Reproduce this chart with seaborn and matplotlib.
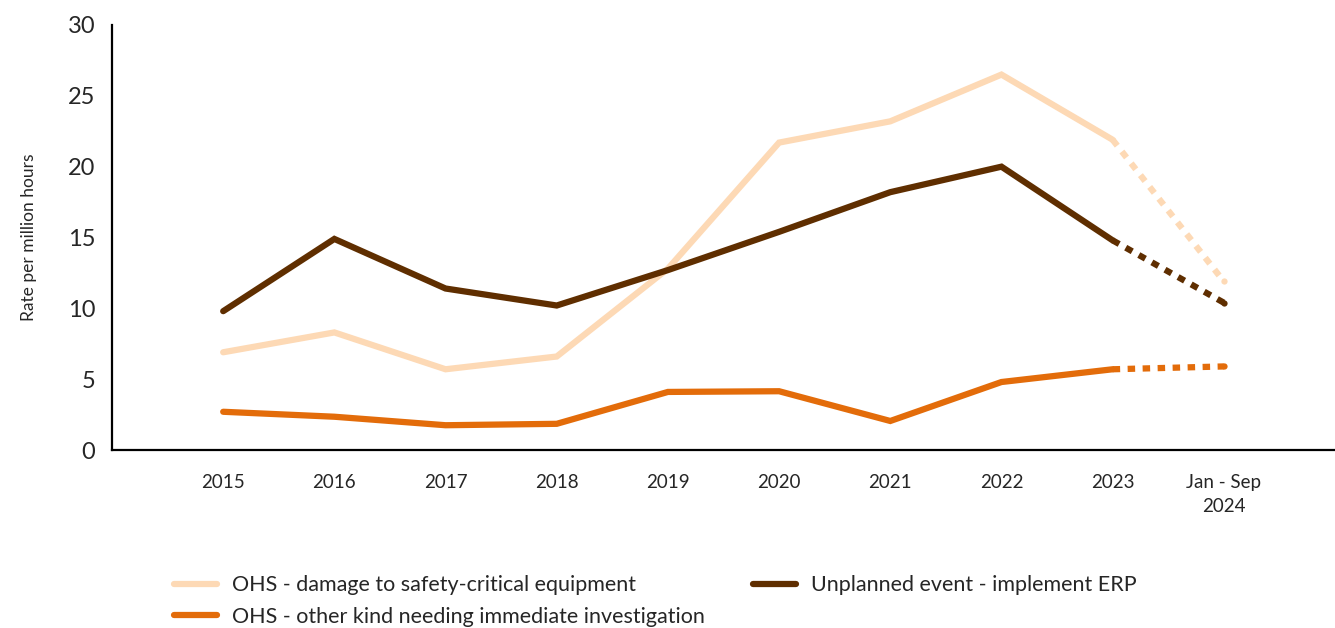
import matplotlib
matplotlib.use("Agg")
import matplotlib.pyplot as plt
import seaborn as sns
import pandas as pd
from matplotlib.lines import Line2D

categories = ["2015", "2016", "2017", "2018", "2019", "2020", "2021", "2022", "2023", "Jan - Sep\n2024"]
ohs_damage = [6.9, 8.3, 5.7, 6.6, 12.8, 21.7, 23.2, 26.5, 21.9, 11.9]
unplanned_erp = [9.8, 14.9, 11.4, 10.2, 12.7, 15.4, 18.2, 20.0, 14.8, 10.4]
ohs_other = [2.7, 2.35, 1.75, 1.85, 4.1, 4.15, 2.05, 4.8, 5.7, 5.9]

series = {
    "OHS - damage to safety-critical equipment": (ohs_damage, "#FDD9B5"),
    "Unplanned event - implement ERP": (unplanned_erp, "#5F2E00"),
    "OHS - other kind needing immediate investigation": (ohs_other, "#E36C0A"),
}

sns.set_style("white")
plt.rcParams["font.family"] = ["Lato", "DejaVu Sans"]

fig = plt.figure(figsize=(13.35, 6.28), dpi=100)
ax = fig.add_axes([0.0839, 0.2834, 0.9161, 0.6768])

idx = list(range(len(categories)))
for name, (vals, col) in series.items():
    df = pd.DataFrame({"x": idx, "y": vals})
    solid = df.iloc[:-1]
    dotted = df.iloc[-2:]
    sns.lineplot(data=solid, x="x", y="y", color=col, lw=4.5, ax=ax,
                 solid_capstyle="round", solid_joinstyle="miter")
    sns.lineplot(data=dotted, x="x", y="y", color=col, lw=4.5, ax=ax,
                 linestyle=(0, (1.2, 1.2)), dash_capstyle="butt")
    # round end dot at the last point, like the reference
    sns.lineplot(data=df.iloc[-1:], x="x", y="y", color=col, ax=ax,
                 marker="o", markersize=4.5, markeredgewidth=0, linestyle="none")

ax.set_xlim(-1, 10)
ax.set_ylim(0, 30)
ax.set_xticks([-1] + idx)
ax.set_xticklabels([""] + categories, fontsize=13.5, linespacing=1.5)
ax.set_yticks(range(0, 31, 5))
ax.tick_params(axis="y", labelsize=17, length=9, width=1, color="#999999", pad=3)
ax.tick_params(axis="x", length=8, width=1, color="#888888", pad=9)
ax.set_xlabel("")
ax.set_ylabel("Rate per million hours", fontsize=12.5, labelpad=22)

for s in ["top", "right"]:
    ax.spines[s].set_visible(False)
for s in ["left", "bottom"]:
    ax.spines[s].set_color("black")
    ax.spines[s].set_linewidth(1.6)

names = list(series.keys())
order = [names[0], names[2], names[1]]
handles = [Line2D([0], [0], color=series[n][1], lw=4.5) for n in order]
fig.legend(handles, order, loc="upper left", bbox_to_anchor=(0.124, 0.098),
           ncol=2, frameon=False, fontsize=15.5, handlelength=2.0,
           handletextpad=0.7, columnspacing=2.2, labelspacing=0.55, borderaxespad=0)

fig.savefig("out.png", dpi=100)
